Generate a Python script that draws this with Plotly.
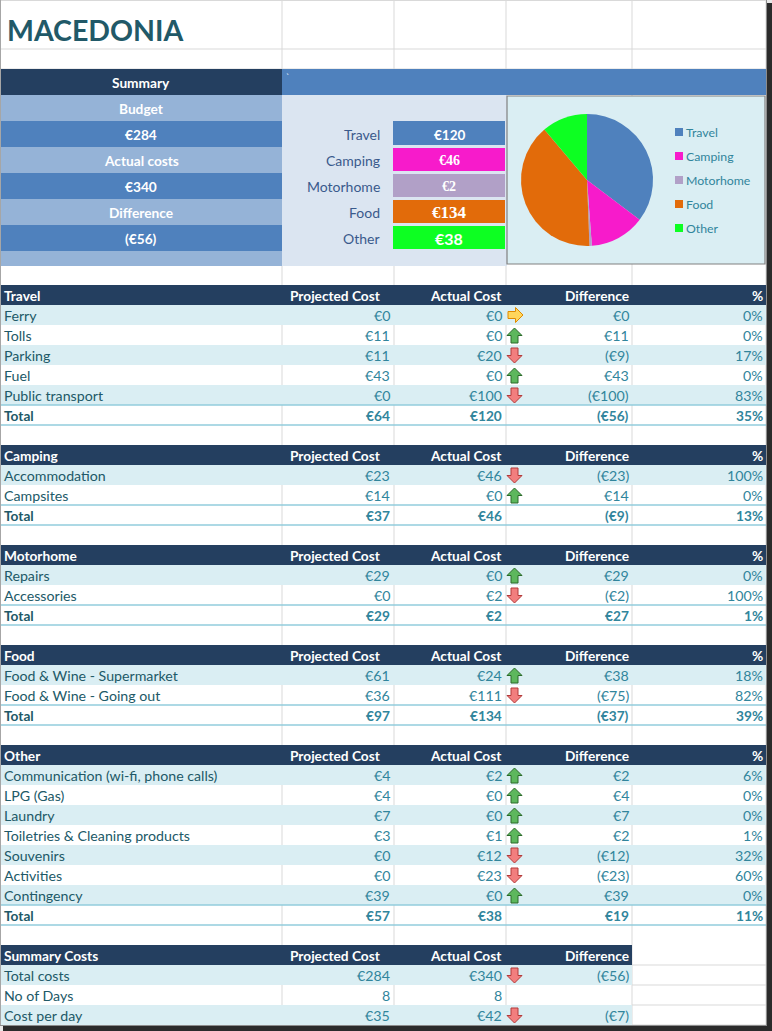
import plotly.graph_objects as go

W, H = 772, 1031

# ---------------- data ----------------
title = "MACEDONIA"
summary_labels = ["Budget", "Actual costs", "Difference"]
summary_values = [284, 340, -56]

categories = ["Travel", "Camping", "Motorhome", "Food", "Other"]
category_actual = [120, 46, 2, 134, 38]

col_headers = ["Projected Cost", "Actual Cost", "Difference", "%"]

travel_items = ["Ferry", "Tolls", "Parking", "Fuel", "Public transport"]
travel_proj = [0, 11, 11, 43, 0]
travel_act = [0, 0, 20, 0, 100]
travel_diff = [0, 11, -9, 43, -100]
travel_pct = [0, 0, 17, 0, 83]
travel_total = [64, 120, -56, 35]

camping_items = ["Accommodation", "Campsites"]
camping_proj = [23, 14]
camping_act = [46, 0]
camping_diff = [-23, 14]
camping_pct = [100, 0]
camping_total = [37, 46, -9, 13]

motorhome_items = ["Repairs", "Accessories"]
motorhome_proj = [29, 0]
motorhome_act = [0, 2]
motorhome_diff = [29, -2]
motorhome_pct = [0, 100]
motorhome_total = [29, 2, 27, 1]

food_items = ["Food & Wine - Supermarket", "Food & Wine - Going out"]
food_proj = [61, 36]
food_act = [24, 111]
food_diff = [38, -75]
food_pct = [18, 82]
food_total = [97, 134, -37, 39]

other_items = ["Communication (wi-fi, phone calls)", "LPG (Gas)", "Laundry",
               "Toiletries & Cleaning products", "Souvenirs", "Activities", "Contingency"]
other_proj = [4, 4, 7, 3, 0, 0, 39]
other_act = [2, 0, 0, 1, 12, 23, 0]
other_diff = [2, 4, 7, 2, -12, -23, 39]
other_pct = [6, 0, 0, 1, 32, 60, 0]
other_total = [57, 38, 19, 11]

sumcost_items = ["Total costs", "No of Days", "Cost per day"]
sumcost_proj = [284, 8, 35]
sumcost_act = [340, 8, 42]
sumcost_diff = [-56, None, -7]
sumcost_money = [True, False, True]
sumcost_arrow = [True, False, True]

# ---------------- style ----------------
FONT = "Lato"
NAVY = "#243F60"
BLUE = "#4F81BD"
LBLUE = "#95B3D7"
PANEL = "#DBE5F1"
STRIPE = "#DAEEF3"
TEAL = "#31859C"
DTEAL = "#215967"
TLINE = "#92CDDC"
GRID = "#D9D9D9"
BODY = 14.2
HEAD = 13.7
cat_colors = ["#4F81BD", "#F71BCB", "#B1A0C7", "#E26B0A", "#0DFF22"]
cat_val_font = [(FONT, 13.5), ("Liberation Serif", 14), ("Liberation Serif", 14),
                ("Liberation Serif", 17), (FONT, 16)]

# column geometry (pixels)
COLS = [0, 282, 394, 506, 632, 766]
X_LABEL = 3
X_PROJ, X_ACT, X_DIFF, X_PCT = 391, 503, 630, 764
X_PROJ_H = 382
ROW = 20
TY = 10.5  # text centre offset inside a row

shapes = []
annos = []


def rect(x0, y0, x1, y1, fill, line=None, lw=0):
    shapes.append(dict(type="rect", xref="x", yref="y", x0=x0, y0=y0, x1=x1, y1=y1,
                       fillcolor=fill, line=dict(color=line or fill, width=lw),
                       layer="below"))


def hline(x0, x1, y, color, w=1):
    shapes.append(dict(type="line", xref="x", yref="y", x0=x0, x1=x1, y0=y, y1=y,
                       line=dict(color=color, width=w), layer="below"))


def vline(x, y0, y1, color, w=1):
    shapes.append(dict(type="line", xref="x", yref="y", x0=x, x1=x, y0=y0, y1=y1,
                       line=dict(color=color, width=w), layer="below"))


def text(x, y, s, anchor="left", color=TEAL, size=BODY, bold=False, family=FONT):
    if bold:
        s = "<b>" + s + "</b>"
    annos.append(dict(x=x, y=y, xref="x", yref="y", text=s, showarrow=False,
                      xanchor=anchor, yanchor="middle",
                      font=dict(family=family, size=size, color=color), borderpad=0))


def money(v):
    return f"€{v}" if v >= 0 else f"(€{-v})"


def arrow(kind, top):
    cx = 514.5
    t, b = top + 3, top + 18
    if kind == "up":
        pts = [(cx, t), (cx + 7.5, t + 7.5), (cx + 3.5, t + 7.5), (cx + 3.5, b),
               (cx - 3.5, b), (cx - 3.5, t + 7.5), (cx - 7.5, t + 7.5)]
        fill, edge = "#5DB75D", "#2A6A2A"
    elif kind == "down":
        pts = [(cx - 3.5, t), (cx + 3.5, t), (cx + 3.5, b - 7.5), (cx + 7.5, b - 7.5),
               (cx, b), (cx - 7.5, b - 7.5), (cx - 3.5, b - 7.5)]
        fill, edge = "#F27E7E", "#B23A3A"
    else:
        l, r = 508, 523
        m = top + 10
        pts = [(l, m - 3.5), (r - 7.5, m - 3.5), (r - 7.5, m - 7.5), (r, m),
               (r - 7.5, m + 7.5), (r - 7.5, m + 3.5), (l, m + 3.5)]
        fill, edge = "#FFD65C", "#E08A00"
    path = "M " + " L ".join(f"{x},{y}" for x, y in pts) + " Z"
    shapes.append(dict(type="path", xref="x", yref="y", path=path, fillcolor=fill,
                       line=dict(color=edge, width=1), layer="below"))


def arrow_kind(p, a):
    if a < p:
        return "up"
    if a > p:
        return "down"
    return "right"


# ---------------- gridlines (under everything) ----------------
for cx in COLS[1:]:
    vline(cx, 0, 1025, GRID)
hline(0, 766, 0.5, GRID)
hline(0, 766, 49, GRID)
hline(0, 766, 69, GRID)

# ---------------- title ----------------
text(6, 30, title, color="#215968", size=28.5, bold=True)

# ---------------- summary panel ----------------
rect(0, 69, 282, 95, NAVY)
rect(282, 69, 766, 95, BLUE)
text(141, 82.5, "Summary", anchor="center", color="white", size=HEAD, bold=True)
text(285, 77, "`", color="white", size=9)
rect(282, 95, 507, 266, PANEL)
y = 95
for lab, val in zip(summary_labels, summary_values):
    rect(0, y, 282, y + 26, LBLUE)
    text(141, y + 13.5, lab, anchor="center", color="white", size=HEAD, bold=True)
    rect(0, y + 26, 282, y + 52, BLUE)
    text(141, y + 39.5, money(val), anchor="center", color="white", size=HEAD, bold=True)
    y += 52
rect(0, y, 282, 266, LBLUE)

for i, (cat, val) in enumerate(zip(categories, category_actual)):
    top = 121 + 26 * i
    rect(393, top + (1 if i else 0), 505, top + 24, cat_colors[i])
    text(381, top + 13.5, cat, anchor="right", color="#3A5A8C", size=14)
    fam, sz = cat_val_font[i]
    text(449, top + 13.5, f"€{val}", anchor="center", color="white", size=sz, bold=True, family=fam)

# pie box
rect(507, 96, 765, 264, STRIPE, line="#808080", lw=1.2)
PCX, PCY, PR = 587, 180, 66
for i, cat in enumerate(categories):
    ly = 132 + 24 * i
    rect(675, ly - 4, 683, ly + 4, cat_colors[i])
    text(685, ly, cat, color=TEAL, size=12.3)

# ---------------- sections ----------------
sections = [
    ("Travel", travel_items, travel_proj, travel_act, travel_diff, travel_pct, travel_total),
    ("Camping", camping_items, camping_proj, camping_act, camping_diff, camping_pct, camping_total),
    ("Motorhome", motorhome_items, motorhome_proj, motorhome_act, motorhome_diff, motorhome_pct, motorhome_total),
    ("Food", food_items, food_proj, food_act, food_diff, food_pct, food_total),
    ("Other", other_items, other_proj, other_act, other_diff, other_pct, other_total),
]


def header(y, name, ncols=4):
    right = COLS[1 + ncols]
    rect(0, y, right, y + ROW, NAVY)
    text(X_LABEL, y + TY, name, color="white", size=HEAD, bold=True)
    xs = [X_PROJ_H, X_ACT, X_DIFF, X_PCT][:ncols]
    for h, xx in zip(col_headers[:ncols], xs):
        text(xx, y + TY, h, anchor="right", color="white", size=HEAD, bold=True)


y = 285
for name, items, proj, act, diff, pct, total in sections:
    header(y, name)
    y += ROW
    for i, it in enumerate(items):
        if i % 2 == 0:
            rect(0, y, 766, y + ROW, STRIPE)
        text(X_LABEL, y + TY, it, color=DTEAL)
        text(X_PROJ, y + TY, money(proj[i]), anchor="right")
        text(X_ACT, y + TY, money(act[i]), anchor="right")
        text(X_DIFF, y + TY, money(diff[i]), anchor="right")
        text(X_PCT, y + TY, f"{pct[i]}%", anchor="right")
        arrow(arrow_kind(proj[i], act[i]), y)
        y += ROW
    hline(0, 766, y, TLINE, 1.5)
    text(X_LABEL, y + TY, "Total", color=DTEAL, size=HEAD, bold=True)
    text(X_PROJ, y + TY, money(total[0]), anchor="right", size=HEAD, bold=True)
    text(X_ACT, y + TY, money(total[1]), anchor="right", size=HEAD, bold=True)
    text(X_DIFF, y + TY, money(total[2]), anchor="right", size=HEAD, bold=True)
    text(X_PCT, y + TY, f"{total[3]}%", anchor="right", size=HEAD, bold=True)
    y += ROW
    hline(0, 766, y, TLINE, 1.5)
    y += ROW

# summary costs
header(y, "Summary Costs", ncols=3)
y += ROW
for i, it in enumerate(sumcost_items):
    hline(632, 766, y, GRID)
    if i % 2 == 0:
        rect(0, y, 632, y + ROW, STRIPE)
    fmt = money if sumcost_money[i] else str
    text(X_LABEL, y + TY, it, color=DTEAL)
    text(X_PROJ, y + TY, fmt(sumcost_proj[i]), anchor="right")
    text(X_ACT, y + TY, fmt(sumcost_act[i]), anchor="right")
    if sumcost_diff[i] is not None:
        text(X_DIFF, y + TY, fmt(sumcost_diff[i]), anchor="right")
    if sumcost_arrow[i]:
        arrow(arrow_kind(sumcost_proj[i], sumcost_act[i]), y)
    y += ROW
hline(632, 766, y, GRID)

# frame + shadow
vline(0.5, 0, 1026, "#A6A6A6")
vline(766.5, 0, 1026, "#8C8C8C")
hline(0, 767, 1025.5, "#8C8C8C")
rect(767, 3, 772, 1031, "#2B2B2B")
rect(3, 1026, 772, 1031, "#2B2B2B")
rect(767, 0, 772, 3, "#E8E8E8")
rect(0, 1026, 3, 1031, "#E8E8E8")

# ---------------- figure ----------------
fig = go.Figure()
fig.add_trace(go.Scatter(x=[0, W], y=[0, H], mode="markers", marker=dict(opacity=0),
                         hoverinfo="skip", showlegend=False))
fig.add_trace(go.Pie(values=category_actual, labels=categories, sort=False,
                     direction="clockwise", rotation=0, textinfo="none",
                     marker=dict(colors=cat_colors, line=dict(width=0)),
                     showlegend=False, hoverinfo="label+value",
                     domain=dict(x=[(PCX - PR) / W, (PCX + PR) / W],
                                 y=[1 - (PCY + PR) / H, 1 - (PCY - PR) / H])))
fig.update_layout(
    width=W, height=H, margin=dict(l=0, r=0, t=0, b=0),
    paper_bgcolor="white", plot_bgcolor="white",
    xaxis=dict(range=[0, W], visible=False, fixedrange=True),
    yaxis=dict(range=[H, 0], visible=False, fixedrange=True),
    shapes=shapes, annotations=annos, showlegend=False,
    font=dict(family=FONT),
)
fig.write_html("out.html", config={"displayModeBar": False},
               post_script="document.body.style.margin='0px';")
